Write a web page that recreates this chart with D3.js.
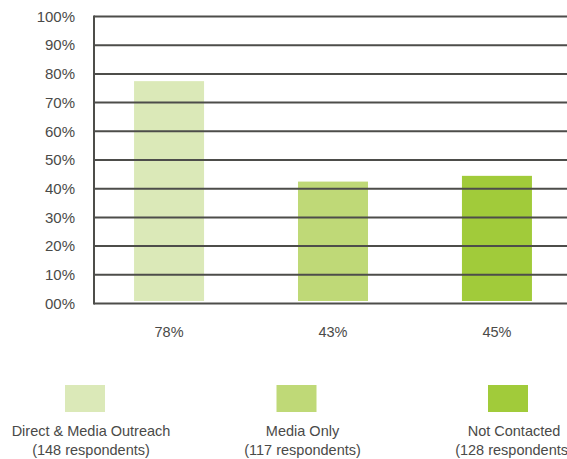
<!DOCTYPE html>
<meta charset="utf-8">
<style>
body { margin: 0; background: #fff; }
text { font-family: "Liberation Sans", Arial, sans-serif; fill: #4a4a48; }
</style>
<body>
<div class="chart"></div>
<script src="https://cdn.jsdelivr.net/npm/d3@7"></script>
<script>

var groups = ["Direct & Media Outreach", "Media Only", "Not Contacted"],
    respondents = ["(148 respondents)", "(117 respondents)", "(128 respondents)"],
    values = [78, 43, 45],
    colors = ["#dbe9b8", "#bfd977", "#a1cb3a"],
    ticks = [0, 10, 20, 30, 40, 50, 60, 70, 80, 90, 100];

var w = 567, h = 459;

var svg = d3.select(".chart").append("svg")
    .attr("width", w)
    .attr("height", h);

var x = d3.scaleBand()
    .domain(groups)
    .range([87, 579])
    .paddingInner(0.573)
    .paddingOuter(0.287);

var y = d3.scaleLinear()
    .domain([0, 100])
    .range([303.5, 16.5]);

// bars (sit slightly above the axis line)
svg.selectAll("rect.bar")
    .data(values)
  .enter().append("rect")
    .attr("class", "bar")
    .attr("x", function(d, i) { return x(groups[i]); })
    .attr("width", x.bandwidth())
    .attr("y", function(d) { return y(d) + 1.5; })
    .attr("height", function(d) { return y(0) - y(d) - 4; })
    .style("fill", function(d, i) { return colors[i]; });

// grid lines drawn over the bars
svg.selectAll("line.grid")
    .data(ticks)
  .enter().append("line")
    .attr("class", "grid")
    .attr("x1", 94)
    .attr("x2", w)
    .attr("y1", function(d) { return y(d); })
    .attr("y2", function(d) { return y(d); })
    .style("stroke", "#4d4d4a")
    .style("stroke-width", 2);

svg.append("line")
    .attr("x1", 94).attr("x2", 94)
    .attr("y1", y(100) - 1).attr("y2", y(0) + 1)
    .style("stroke", "#4d4d4a")
    .style("stroke-width", 2);

svg.selectAll("text.tick")
    .data(ticks)
  .enter().append("text")
    .attr("class", "tick")
    .attr("x", 75)
    .attr("y", function(d) { return y(d); })
    .attr("dy", "0.35em")
    .attr("text-anchor", "end")
    .style("font-size", "15px")
    .text(function(d) { return (d < 10 ? "0" + d : d) + "%"; });

// value labels under bars
svg.selectAll("text.val")
    .data(values)
  .enter().append("text")
    .attr("class", "val")
    .attr("x", function(d, i) { return x(groups[i]) + x.bandwidth() / 2; })
    .attr("y", 332)
    .attr("dy", "0.35em")
    .attr("text-anchor", "middle")
    .style("font-size", "14.5px")
    .text(function(d) { return d + "%"; });

// legend
var lx = d3.scalePoint().domain(groups).range([85, 508]);

var leg = svg.selectAll("g.leg")
    .data(groups)
  .enter().append("g")
    .attr("class", "leg")
    .attr("transform", function(d) { return "translate(" + lx(d) + ",0)"; });

leg.append("rect")
    .attr("x", -20)
    .attr("y", 385)
    .attr("width", 40)
    .attr("height", 27)
    .style("fill", function(d, i) { return colors[i]; });

leg.append("text")
    .attr("x", 6)
    .attr("y", 431)
    .attr("dy", "0.35em")
    .attr("text-anchor", "middle")
    .style("font-size", "14.5px")
    .text(function(d) { return d; });

leg.append("text")
    .attr("x", 6)
    .attr("y", 450)
    .attr("dy", "0.35em")
    .attr("text-anchor", "middle")
    .style("font-size", "14.5px")
    .text(function(d, i) { return respondents[i]; });

</script>
</body>
